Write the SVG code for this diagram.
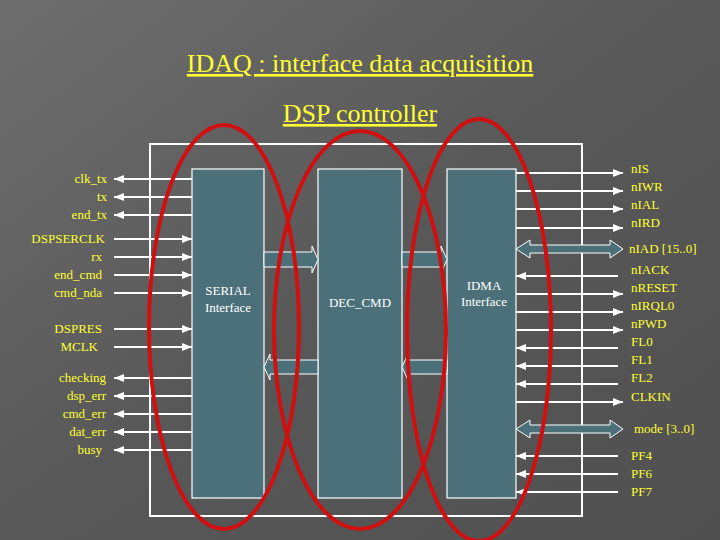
<svg xmlns="http://www.w3.org/2000/svg" width="720" height="540" viewBox="0 0 720 540" font-family="Liberation Serif, Times New Roman, DejaVu Serif, serif">
<defs>
<linearGradient id="bg" x1="0" y1="0" x2="1" y2="1">
<stop offset="0" stop-color="#6e6e6e"/><stop offset="0.5" stop-color="#585858"/><stop offset="1" stop-color="#505050"/>
</linearGradient>
<marker id="ah" viewBox="0 0 10 10" refX="10" refY="5" markerWidth="5" markerHeight="5" orient="auto-start-reverse"><path d="M0,1 L10,5 L0,9 z" fill="#fff"/></marker>
</defs>
<style>
.blk{fill:#4b707a;stroke:#fff;stroke-width:1.2}
.ln path{stroke:#fff;stroke-width:2;fill:none;marker-end:url(#ah)}
.fat{fill:#4b707a;stroke:#fff;stroke-width:1}
.ell{fill:none;stroke:#d01010;stroke-width:4}
.lbl{font-size:13px;fill:#ffff33}
.bt{font-size:13px;fill:#fff;text-anchor:middle}
.ttl{font-size:26px;fill:#ffff33;text-anchor:middle;text-decoration:underline}
</style>
<rect width="720" height="540" fill="url(#bg)"/>
<text class="ttl" x="360" y="72">IDAQ : interface data acquisition</text>
<text class="ttl" x="360" y="122">DSP controller</text>
<rect x="150" y="144" width="432" height="372" fill="none" stroke="#fff" stroke-width="2"/>
<g id="serial"><rect class="blk" x="192" y="169" width="72" height="329"/><text class="bt" x="228" y="295">SERIAL</text><text class="bt" x="228" y="312">Interface</text></g>
<g id="deccmd"><rect class="blk" x="318" y="169" width="84" height="329"/><text class="bt" x="360" y="307">DEC_CMD</text></g>
<g id="idma"><rect class="blk" x="447" y="169" width="69" height="329"/><text class="bt" x="484" y="290">IDMA</text><text class="bt" x="484" y="306">Interface</text></g>
<g id="connectors">
<path class="fat" d="M264,252 H312 V246 L318,259.5 L312,273 V267 H264 z"/>
<path class="fat" d="M402,252 H441 V246 L447,259.5 L441,273 V267 H402 z"/>
<path class="fat" d="M318,360 H270 V354 L264,367 L270,380 V374 H318 z"/>
<path class="fat" d="M447,360 H408 V354 L402,367 L408,380 V374 H447 z"/>
<path class="fat" d="M516,249 L530,240 V245 H610 V240 L623,249 L610,258 V253 H530 V258 z"/>
<path class="fat" d="M516,429 L530,420 V425 H610 V420 L623,429 L610,438 V433 H530 V438 z"/>
<g class="ln">
<path d="M192,179H114"/><path d="M192,197H114"/><path d="M192,215H114"/><path d="M192,378H114"/><path d="M192,396H114"/><path d="M192,414H114"/><path d="M192,432H114"/><path d="M192,450H114"/>
<path d="M114,239H192"/><path d="M114,257H192"/><path d="M114,275H192"/><path d="M114,293H192"/><path d="M114,329H192"/><path d="M114,347H192"/>
<path d="M516,173H623"/><path d="M516,191H623"/><path d="M516,209H623"/><path d="M516,228H623"/><path d="M516,294H623"/><path d="M516,312H623"/><path d="M516,330H623"/><path d="M516,402H623"/>
<path d="M618,276H516"/><path d="M618,348H516"/><path d="M618,366H516"/><path d="M618,384H516"/><path d="M618,456H516"/><path d="M618,474H516"/><path d="M618,492H516"/>
</g>
</g>
<g class="lbl" text-anchor="end">
<text x="107" y="183">clk_tx</text><text x="107" y="201">tx</text><text x="107" y="219">end_tx</text>
<text x="105" y="243">DSPSERCLK</text><text x="102" y="261">rx</text><text x="102" y="279">end_cmd</text><text x="102" y="297">cmd_nda</text>
<text x="102" y="333">DSPRES</text><text x="98" y="351">MCLK</text>
<text x="106" y="382">checking</text><text x="106" y="400">dsp_err</text><text x="106" y="418">cmd_err</text><text x="106" y="436">dat_err</text><text x="102" y="454">busy</text>
</g>
<g class="lbl">
<text x="631" y="173">nIS</text><text x="631" y="191">nIWR</text><text x="631" y="209">nIAL</text><text x="631" y="227">nIRD</text>
<text x="629" y="253">nIAD [15..0]</text>
<text x="631" y="274">nIACK</text><text x="631" y="292">nRESET</text><text x="631" y="310">nIRQL0</text><text x="631" y="328">nPWD</text>
<text x="631" y="346">FL0</text><text x="631" y="364">FL1</text><text x="631" y="382">FL2</text><text x="631" y="401">CLKIN</text>
<text x="634" y="433">mode [3..0]</text>
<text x="631" y="460">PF4</text><text x="631" y="478">PF6</text><text x="631" y="496">PF7</text>
</g>
<ellipse class="ell" cx="224" cy="327" rx="75" ry="202"/>
<ellipse class="ell" cx="360" cy="330" rx="86" ry="199"/>
<ellipse class="ell" cx="479" cy="330" rx="72" ry="211"/>
</svg>
